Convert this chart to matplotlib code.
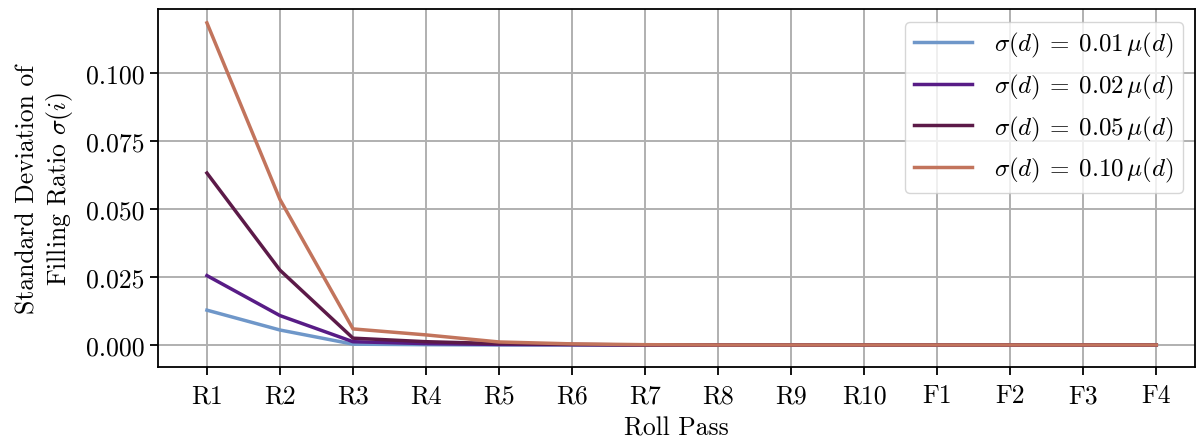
import matplotlib
matplotlib.use("Agg")
import matplotlib.pyplot as plt

plt.rcParams['font.family'] = ['cmr10', 'DejaVu Serif']
plt.rcParams['mathtext.fontset'] = 'cm'
plt.rcParams['axes.formatter.use_mathtext'] = True
plt.rcParams['axes.unicode_minus'] = False

passes = ["R1", "R2", "R3", "R4", "R5", "R6", "R7", "R8", "R9", "R10", "F1", "F2", "F3", "F4"]
labels = [r"$\sigma(d)\:=\:0.01\,\mu(d)$", r"$\sigma(d)\:=\:0.02\,\mu(d)$",
          r"$\sigma(d)\:=\:0.05\,\mu(d)$", r"$\sigma(d)\:=\:0.10\,\mu(d)$"]
s001 = [0.0128, 0.0055, 0.0003, 0.0001, 0.0, 0.0, 0.0, 0.0, 0.0, 0.0, 0.0, 0.0, 0.0, 0.0]
s002 = [0.0255, 0.0108, 0.0012, 0.0005, 0.0002, 0.0001, 0.0, 0.0, 0.0, 0.0, 0.0, 0.0, 0.0, 0.0]
s005 = [0.0632, 0.0275, 0.0025, 0.0012, 0.0005, 0.0002, 0.0, 0.0, 0.0, 0.0, 0.0, 0.0, 0.0, 0.0]
s010 = [0.1184, 0.0535, 0.0059, 0.0037, 0.0011, 0.0004, 0.0001, 0.0, 0.0, 0.0, 0.0, 0.0, 0.0, 0.0]
colors = ["#6f97c9", "#581c86", "#5c1a48", "#c2745c"]

FS = 18.5
fig = plt.figure(figsize=(11.97, 4.39), dpi=100)
ax = fig.add_axes([158/1197, 1-368/439, (1195-158)/1197, (368-10)/439])
x = list(range(len(passes)))
for ys, c, lab in zip([s001, s002, s005, s010], colors, labels):
    ax.plot(x, ys, color=c, lw=2.5, label=lab)
ax.set_xticks(x)
ax.set_xticklabels(passes)
ax.set_xlim(-0.67, 13.53)
ax.set_ylim(-0.0081, 0.1235)
ax.set_yticks([0.0, 0.025, 0.05, 0.075, 0.1])
ax.set_yticklabels(["0.000", "0.025", "0.050", "0.075", "0.100"])
ax.grid(True, color="#b0b0b0", lw=1.4)
ax.set_axisbelow(True)
ax.tick_params(labelsize=FS, width=1.3, length=6)
ax.tick_params(axis='x', pad=6)
for sp in ax.spines.values():
    sp.set_linewidth(1.3)
ax.set_xlabel("Roll Pass", fontsize=FS, labelpad=6)
ax.set_ylabel("Standard Deviation of\nFilling Ratio $\\sigma(i)$", fontsize=FS, multialignment='center', labelpad=8)
leg = ax.legend(loc="upper right", fontsize=18, framealpha=0.8, edgecolor="#cccccc",
                handlelength=2.3, borderpad=0.35, labelspacing=0.5, handletextpad=0.9,
                borderaxespad=0.5)
fig.savefig("out.png", dpi=100)
